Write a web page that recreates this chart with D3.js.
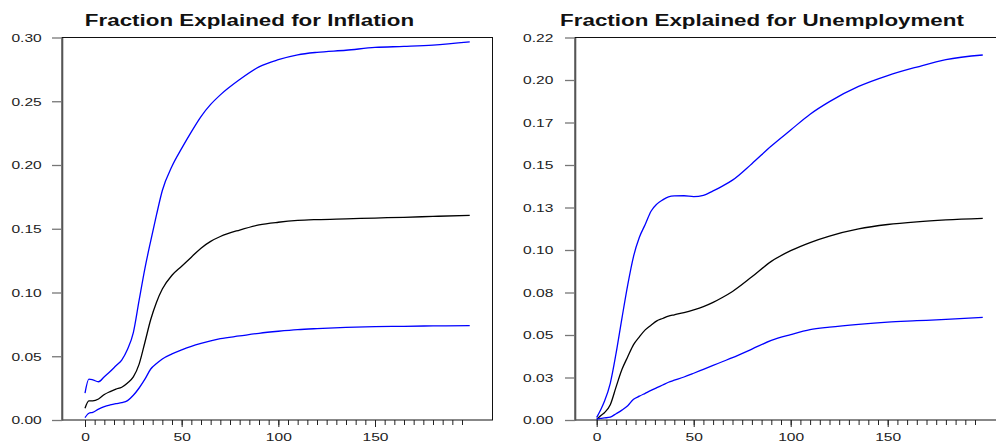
<!DOCTYPE html>
<html>
<head>
<meta charset="utf-8">
<script src="https://cdn.jsdelivr.net/npm/d3@7"></script>
<style>
  body { margin: 0; background: #fff; }
  svg { display: block; font-family: "Liberation Sans", Arial, sans-serif; }
</style>
</head>
<body>
<svg id="chart" width="996" height="444"></svg>
<script>
// horizons (steps) shared by every series
const horizons = [0, 2, 4, 7, 10, 13, 16, 19, 22, 25, 28, 31, 34, 37, 40, 45, 50, 55, 60, 65, 70, 80, 90, 100, 110, 120, 135, 150, 165, 180, 199];

// inflation: upper band, point estimate, lower band
const inflUpper = [.021, .032, .0315, .030, .034, .038, .0425, .047, .0554, .0685, .094, .119, .1405, .161, .180, .199, .213, .226, .238, .2475, .255, .267, .277, .2826, .2864, .2884, .290, .2922, .293, .294, .2965];
const inflMid = [.0092, .015, .015, .0165, .020, .0223, .0242, .0257, .029, .0338, .0438, .061, .0788, .0924, .1027, .1135, .1206, .1277, .1348, .1401, .1439, .149, .153, .1551, .1565, .1572, .1578, .1584, .159, .1597, .1605];
const inflLower = [.0018, .0053, .006, .0085, .0105, .0118, .0128, .0136, .0152, .0194, .0251, .032, .040, .0443, .0479, .0518, .055, .0578, .0601, .0621, .0638, .0659, .068, .0696, .0709, .0717, .0726, .0732, .0735, .0738, .074];

// unemployment: upper band, point estimate, lower band
const unempUpper = [.0015, .0059, .011, .0216, .0393, .0598, .0795, .0963, .1075, .115, .1228, .127, .1295, .1313, .1318, .1319, .1314, .1321, .1348, .1377, .1411, .1508, .1612, .1706, .1799, .1873, .1962, .2026, .2076, .212, .2147];
const unempMid = [.0003, .0025, .0043, .009, .0195, .0297, .0372, .0443, .0489, .053, .0558, .0583, .0597, .0611, .0619, .0632, .0648, .0667, .0692, .0722, .0756, .0842, .0933, .0996, .1044, .1082, .1124, .115, .1166, .1177, .1186];
const unempLower = [.0005, .0009, .0012, .0017, .0037, .0058, .0084, .0122, .014, .0157, .0174, .019, .0206, .0222, .0234, .0253, .0275, .0298, .0321, .0344, .0367, .0417, .0468, .0502, .0531, .0546, .0563, .0576, .0584, .0592, .0604];

// tick values / labels
const xMajor = [0, 50, 100, 150];
const xMinor = d3.range(0, 200, 5);
const inflYTicks = [0, .05, .10, .15, .20, .25, .30];
const unempYTicks = [0, .025, .05, .075, .10, .125, .15, .175, .20, .225];
const unempYLabels = ["0.00", "0.03", "0.05", "0.08", "0.10", "0.13", "0.15", "0.17", "0.20", "0.22"];

const svg = d3.select("#chart");
const SX = 1.32; // reference text is drawn wide

function panel(opt) {
  const g = svg.append("g");
  const x = d3.scaleLinear().domain([0, 150]).range(opt.xRange);
  const y = d3.scaleLinear().domain([0, opt.yMax]).range([420, 37.5]);

  // frame
  g.append("rect")
    .attr("x", opt.left).attr("y", 37.5)
    .attr("width", opt.right - opt.left).attr("height", 420 - 37.5)
    .attr("fill", "none").attr("stroke", "#111").attr("stroke-width", 1);

  // y axis
  const ya = g.append("g")
    .attr("transform", "translate(" + opt.left + ",0)")
    .call(d3.axisLeft(y).tickValues(opt.yTicks).tickSize(10).tickSizeOuter(0)
      .tickFormat((d, i) => opt.yLabels ? opt.yLabels[i] : d.toFixed(2)));
  ya.select(".domain").attr("stroke", "#555").attr("stroke-width", 1.6);
  ya.selectAll(".tick line").attr("stroke", "#777").attr("stroke-width", 1.3);
  ya.selectAll(".tick text")
    .attr("x", opt.labelGap / SX)
    .attr("transform", "scale(" + SX + ",1)")
    .attr("font-size", 11.8).attr("fill", "#222")
    .attr("font-family", "Liberation Sans, Arial, sans-serif");

  // x axis minor ticks
  const xm = g.append("g")
    .attr("transform", "translate(0,420)")
    .call(d3.axisBottom(x).tickValues(xMinor).tickSize(5).tickSizeOuter(0).tickFormat(""));
  xm.select(".domain").remove();
  xm.selectAll(".tick line").attr("stroke", "#222");

  // x axis major ticks
  const xa = g.append("g")
    .attr("transform", "translate(0,420)")
    .call(d3.axisBottom(x).tickValues(xMajor).tickSize(7).tickSizeOuter(0));
  xa.select(".domain").remove();
  xa.selectAll(".tick line").attr("stroke", "#222");
  xa.selectAll(".tick text")
    .attr("y", 21).attr("dy", 0)
    .attr("transform", "scale(" + SX + ",1)")
    .attr("font-size", 11.8).attr("fill", "#222")
    .attr("font-family", "Liberation Sans, Arial, sans-serif");

  // lines
  const line = d3.line()
    .x((d, i) => x(horizons[i]))
    .y(d => y(d))
    .curve(d3.curveMonotoneX);

  opt.series.forEach(s => {
    g.append("path")
      .datum(s.values)
      .attr("d", line)
      .attr("fill", "none")
      .attr("stroke", s.color)
      .attr("stroke-width", 1.3);
  });

  // title
  g.append("text")
    .attr("transform", "translate(" + opt.titleX + ",26) scale(1.316,1)")
    .attr("text-anchor", "middle")
    .attr("font-size", 17).attr("font-weight", "bold").attr("fill", "#111")
    .text(opt.title);
}

panel({
  left: 62, right: 492.5, xRange: [85, 375], yMax: 0.30,
  yTicks: inflYTicks, labelGap: -20.3, titleX: 249.5,
  title: "Fraction Explained for Inflation",
  series: [
    { values: inflUpper, color: "#0000ff" },
    { values: inflMid, color: "#000" },
    { values: inflLower, color: "#0000ff" }
  ]
});

panel({
  left: 575, right: 998, xRange: [596.7, 887.7], yMax: 0.225,
  yTicks: unempYTicks, yLabels: unempYLabels, labelGap: -21.7, titleX: 762,
  title: "Fraction Explained for Unemployment",
  series: [
    { values: unempUpper, color: "#0000ff" },
    { values: unempMid, color: "#000" },
    { values: unempLower, color: "#0000ff" }
  ]
});
</script>
</body>
</html>
